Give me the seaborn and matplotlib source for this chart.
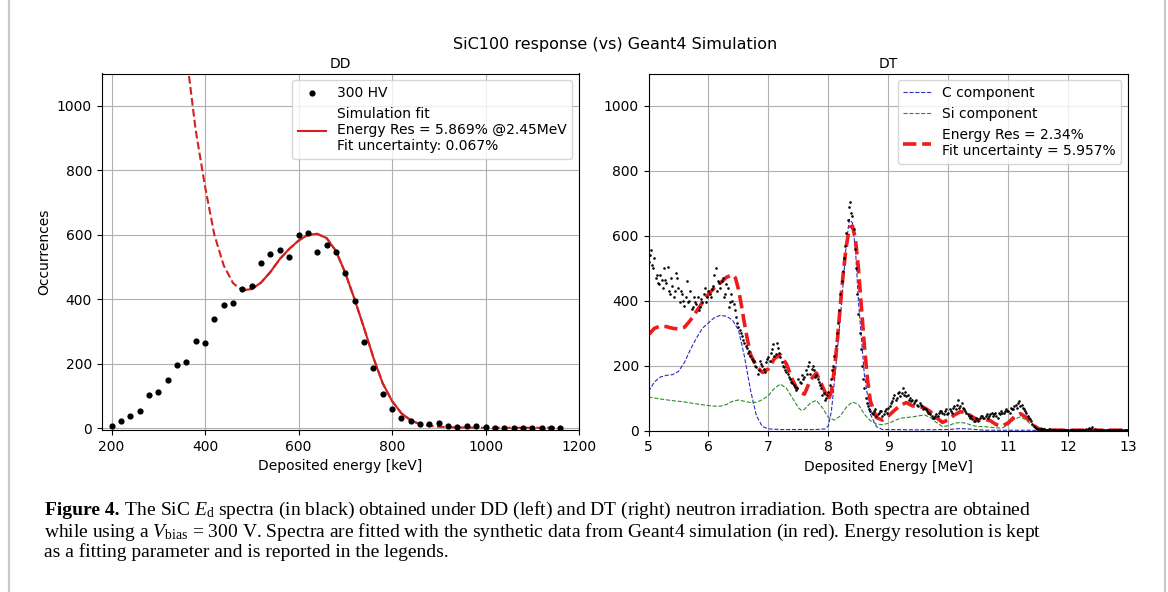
import numpy as np
import pandas as pd
import matplotlib
matplotlib.use("Agg")
import matplotlib.pyplot as plt
import seaborn as sns

# ---------------- data ----------------
# DD (left)
dd_energy = list(range(200, 1161, 20))
dd_counts = [6, 22, 37, 53, 104, 114, 151, 198, 206, 272,
             265, 340, 383, 389, 432, 441, 514, 539, 553, 530,
             598, 605, 548, 567, 546, 482, 396, 267, 187, 107,
             59, 33, 23, 13, 13, 18, 7, 5, 7, 6,
             5, 1, 1, 2, 2, 2, 2, 2, 1]
dd_fit_energy = list(range(360, 1161, 20))
dd_fit_counts = [1160, 925, 750, 600, 505, 450, 428, 432, 452, 485,
                 525, 556, 582, 600, 603, 590, 550, 482, 400, 312,
                 220, 140, 85, 47, 25, 13, 8, 5, 4, 3,
                 3, 2, 2, 2, 2, 2, 2, 2, 2, 2, 2]
dd_fit_window = (480, 860)

# DT (right): two interleaved sets of bins
dt_energy_a = np.round(np.linspace(5.0, 13.0, 201), 2)
dt_counts_a = [520, 555, 500, 470, 455, 480, 440, 465, 505, 420,
               445, 430, 470, 395, 420, 385, 460, 400, 375, 410,
               390, 370, 405, 420, 395, 430, 410, 445, 500, 460,
               440, 470, 420, 440, 395, 400, 370, 330, 310, 290,
               270, 255, 245, 220, 215, 195, 185, 205, 190, 210,
               225, 240, 265, 235, 255, 225, 200, 185, 175, 160,
               145, 135, 130, 150, 170, 165, 175, 210, 190, 185,
               170, 150, 130, 115, 100, 120, 160, 200, 260, 330,
               420, 490, 570, 650, 705, 660, 560, 420, 300, 200,
               130, 85, 65, 55, 60, 45, 55, 60, 50, 65,
               70, 85, 100, 95, 115, 105, 130, 120, 110, 100,
               95, 90, 80, 85, 75, 70, 60, 55, 45, 40,
               50, 55, 60, 50, 65, 55, 60, 70, 65, 95,
               75, 70, 60, 50, 40, 35, 30, 35, 40, 45,
               40, 50, 45, 55, 50, 45, 55, 60, 55, 65,
               60, 70, 65, 80, 85, 75, 70, 60, 45, 35,
               20, 12, 6, 5, 4, 4,
               3, 4, 3, 2, 3, 2, 3, 2, 2, 3,
               2, 2, 3, 2, 2, 3, 2, 4, 6, 12,
               5, 2, 2, 1, 1, 1, 1, 1, 1, 1,
               1, 1, 1, 1, 1]
dt_energy_b = np.round(np.linspace(5.02, 12.98, 200), 2)
dt_counts_b = [540, 510, 530, 480, 450, 465, 500, 455, 430, 470,
               410, 485, 440, 430, 400, 410, 395, 430, 380, 395,
               410, 380, 395, 440, 410, 420, 435, 480, 430, 455,
               460, 410, 450, 380, 420, 390, 350, 320, 300, 280,
               260, 240, 230, 215, 200, 175, 215, 200, 180, 220,
               215, 250, 230, 270, 240, 210, 195, 180, 165, 150,
               140, 125, 160, 145, 160, 185, 200, 175, 200, 165,
               160, 140, 110, 95, 110, 140, 185, 230, 300, 370,
               460, 530, 610, 690, 670, 620, 500, 360, 250, 160,
               100, 75, 60, 50, 65, 50, 60, 45, 60, 55,
               75, 90, 110, 100, 120, 115, 110, 105, 95, 90,
               85, 95, 75, 80, 65, 65, 55, 50, 40, 45,
               45, 60, 55, 60, 50, 65, 55, 75, 80, 70,
               85, 65, 55, 45, 45, 30, 40, 30, 45, 40,
               45, 40, 50, 45, 55, 40, 50, 55, 60, 60,
               55, 65, 75, 70, 90, 80, 65, 55, 40, 30,
               15, 8, 5, 4, 3,
               3, 2, 4, 2, 3, 2, 2, 3, 2, 2,
               3, 2, 2, 3, 2, 2, 3, 5, 9, 4,
               3, 2, 1, 2, 1, 1, 1, 1, 2, 1,
               1, 1, 1, 1, 1]

dt_fit_energy = [5.0, 5.1, 5.2, 5.3, 5.4, 5.5, 5.6, 5.7, 5.8, 5.9, 6.0, 6.1, 6.2, 6.3, 6.4,
                 6.45, 6.5, 6.55, 6.6, 6.65, 6.7,
                 6.8, 6.9, 7.0, 7.1, 7.2, 7.3, 7.4, 7.5, 7.6, 7.7, 7.8, 7.9, 8.0,
                 8.05, 8.1, 8.15, 8.2, 8.25, 8.3, 8.35, 8.4, 8.45, 8.5, 8.55, 8.6, 8.65,
                 8.7,
                 8.8, 8.9, 9.0, 9.1, 9.2, 9.3, 9.4, 9.5, 9.6, 9.7, 9.8, 9.9, 10.0, 10.1, 10.2,
                 10.3, 10.4, 10.5, 10.6, 10.7, 10.8, 10.9, 11.0, 11.1, 11.2, 11.3, 11.4, 11.5, 11.6,
                 11.8, 12.0, 12.5, 13.0]
dt_fit_counts = [295, 315, 322, 320, 315, 313, 318, 340, 367, 395, 420, 440, 455, 472, 480,
                 470, 435, 385, 330, 280, 235,
                 197, 179, 190, 222, 233, 205, 156, 120, 112, 156, 177, 136, 95,
                 120, 190, 280, 390, 490, 570, 625, 630, 590, 500, 380, 260, 160,
                 90,
                 40, 32, 45, 62, 78, 86, 76, 74, 70, 58, 40, 25, 33, 48, 58,
                 55, 42, 32, 35, 30, 18, 14, 24, 42, 52, 40, 18, 6, 2,
                 1, 1, 1, 1]

c_energy = [5.0, 5.1, 5.2, 5.3, 5.4, 5.5, 5.6, 5.7, 5.8, 5.9, 6.0, 6.1, 6.2, 6.3, 6.4, 6.5,
            6.6, 6.7, 6.8, 6.9, 7.0, 7.2, 7.5, 7.8, 7.95, 8.0, 8.05, 8.1, 8.2, 8.3, 8.35,
            8.4, 8.45, 8.5, 8.6, 8.7, 8.8, 8.9, 9.5, 10.0, 10.2, 10.4, 10.6, 13.0]
c_counts = [120, 150, 165, 170, 172, 182, 210, 250, 285, 315, 332, 348, 355, 352, 340, 310,
            228, 125, 45, 12, 5, 3, 3, 3, 5, 15, 60, 150, 350, 580, 650,
            640, 560, 400, 170, 50, 12, 3, 2, 3, 6, 4, 1, 0]

si_energy = [5.0, 5.2, 5.4, 5.6, 5.8, 6.0, 6.1, 6.2, 6.3, 6.4, 6.5, 6.6, 6.7, 6.8, 6.9, 7.0,
             7.1, 7.2, 7.3, 7.4, 7.5, 7.55, 7.6, 7.7, 7.8, 7.9, 8.0, 8.1, 8.2, 8.3, 8.4,
             8.5, 8.6, 8.7, 8.8, 8.9, 9.0, 9.2, 9.4, 9.6, 9.7, 9.8, 9.9, 10.0, 10.1, 10.2,
             10.3, 10.4, 10.5, 10.6, 10.7, 10.8, 10.9, 11.0, 11.1, 11.2, 11.3, 11.4, 11.5,
             11.6, 13.0]
si_counts = [103, 97, 92, 88, 82, 77, 75, 75, 80, 90, 94, 90, 86, 87, 95, 108,
             130, 143, 130, 100, 70, 62, 65, 85, 93, 70, 40, 32, 45, 72, 88,
             80, 50, 30, 20, 18, 22, 38, 42, 48, 40, 25, 12, 15, 22, 25,
             22, 15, 12, 12, 10, 8, 8, 18, 35, 42, 32, 15, 3,
             1, 0]

suptitle_text = "SiC100 response (vs) Geant4 Simulation"
caption_bold = "Figure 4."
caption_line1 = (" The SiC $E_\\mathrm{d}$ spectra (in black) obtained under DD (left) and DT (right) "
                 "neutron irradiation. Both spectra are obtained")
caption_line2 = ("while using a $V_\\mathrm{bias}$ = 300 V. Spectra are fitted with the synthetic data "
                 "from Geant4 simulation (in red). Energy resolution is kept")
caption_line3 = "as a fitting parameter and is reported in the legends."

# ---------------- style ----------------
plt.rcParams.update({
    "font.family": ["DejaVu Sans"],
    "font.size": 10,
    "axes.edgecolor": "black",
    "axes.linewidth": 0.8,
    "mathtext.fontset": "custom",
    "mathtext.rm": "Liberation Serif",
    "mathtext.it": "Liberation Serif:italic",
})

W, H = 1168, 592
fig = plt.figure(figsize=(W / 100, H / 100), dpi=100)

def px_axes(l, r, t, b):
    return [l / W, 1 - b / H, (r - l) / W, (b - t) / H]

ax1 = fig.add_axes(px_axes(101.7, 579.0, 73.5, 430.0))
ax2 = fig.add_axes(px_axes(648.5, 1128.3, 73.5, 430.5))

GRID = dict(color="#b0b0b0", linewidth=0.8)

# ---------------- left panel ----------------
dd = pd.DataFrame({"E": dd_energy, "N": dd_counts})
ddf = pd.DataFrame({"E": dd_fit_energy, "N": dd_fit_counts})
ddf_in = ddf[(ddf.E >= dd_fit_window[0]) & (ddf.E <= dd_fit_window[1])]

sns.scatterplot(data=dd, x="E", y="N", ax=ax1, color="black", s=20,
                linewidth=0, label="300 HV", zorder=3)
sns.lineplot(data=ddf, x="E", y="N", ax=ax1, color="#d42020", linestyle="--",
             linewidth=1.5, estimator=None, sort=False, zorder=2)
sns.lineplot(data=ddf_in, x="E", y="N", ax=ax1, color="#d42020", linestyle="-",
             linewidth=1.5, estimator=None, sort=False, zorder=2,
             label="Simulation fit\nEnergy Res = 5.869% @2.45MeV\nFit uncertainty: 0.067%")
ax1.set_xlim(179, 1200)
ax1.set_ylim(-5, 1100)
ax1.set_xticks([200, 400, 600, 800, 1000, 1200])
ax1.set_yticks([0, 200, 400, 600, 800, 1000])
ax1.grid(True, **GRID)
ax1.set_axisbelow(True)
ax1.set_xlabel("Deposited energy [keV]")
ax1.set_ylabel("Occurrences")
ax1.set_title("DD", fontsize=10, pad=4)
h, l = ax1.get_legend_handles_labels()
order = [l.index("300 HV"), l.index([x for x in l if x.startswith("Simulation")][0])]
ax1.legend([h[i] for i in order], [l[i] for i in order], loc="upper right")

# ---------------- right panel ----------------
dt = pd.DataFrame({"E": np.concatenate([dt_energy_a, dt_energy_b]),
                   "N": list(dt_counts_a) + list(dt_counts_b)})
sns.scatterplot(data=dt, x="E", y="N", ax=ax2, color="black", s=3.5,
                linewidth=0, zorder=3)
sns.lineplot(x=c_energy, y=c_counts, ax=ax2, color="#2b2bc8", linestyle="--",
             linewidth=0.8, estimator=None, sort=False, label="C component", zorder=2)
sns.lineplot(x=si_energy, y=si_counts, ax=ax2, color="#2e8b2e", linestyle="--",
             linewidth=0.8, estimator=None, sort=False, label="Si component", zorder=2)
sns.lineplot(x=dt_fit_energy, y=dt_fit_counts, ax=ax2, color="#ee1c1c", linestyle="--",
             linewidth=2.6, estimator=None, sort=False, zorder=2,
             label="Energy Res = 2.34%\nFit uncertainty = 5.957%")
ax2.set_xlim(5, 13)
ax2.set_ylim(0, 1100)
ax2.set_xticks(range(5, 14))
ax2.set_yticks([0, 200, 400, 600, 800, 1000])
ax2.grid(True, **GRID)
ax2.set_axisbelow(True)
ax2.set_xlabel("Deposited Energy [MeV]")
ax2.set_ylabel("")
ax2.set_title("DT", fontsize=10, pad=4)
ax2.legend(loc="upper right")

# ---------------- titles ----------------
fig.text(615 / W, 1 - 44 / H, suptitle_text, ha="center", va="center", fontsize=11.5)

# ---------------- caption ----------------
serif = ["Liberation Serif", "DejaVu Serif"]
renderer = fig.canvas.get_renderer()
cap_fs = 14

t_bold = fig.text(45 / W, 1 - 515 / H, caption_bold, family=serif, fontsize=cap_fs,
                  fontweight="bold", va="baseline", ha="left")
bw = t_bold.get_window_extent(renderer).width
fig.text((45 + bw) / W, 1 - 515 / H, caption_line1, family=serif, fontsize=cap_fs,
         va="baseline", ha="left")
fig.text(44.5 / W, 1 - 536.5 / H, caption_line2, family=serif, fontsize=cap_fs,
         va="baseline", ha="left")
fig.text(44.5 / W, 1 - 557 / H, caption_line3, family=serif, fontsize=cap_fs,
         va="baseline", ha="left")

# ---------------- outer frame ----------------
for xp in (9, 1165):
    fig.add_artist(plt.Line2D([xp / W, xp / W], [0, 1], color="#c8c8c8", linewidth=1.6,
                              transform=fig.transFigure))

fig.savefig("out.png", dpi=100)
